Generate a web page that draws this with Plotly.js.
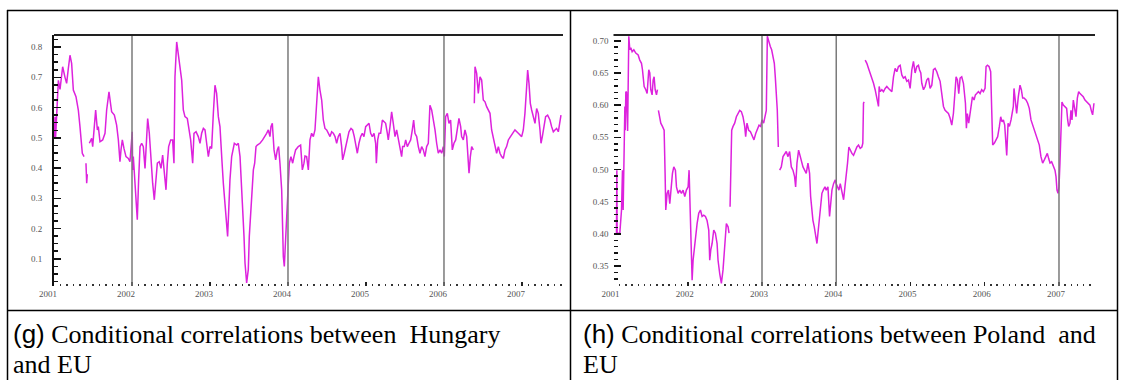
<!DOCTYPE html>
<html><head><meta charset="utf-8">
<script src="https://cdn.plot.ly/plotly-3.0.1.min.js"></script>
<style>html,body{margin:0;padding:0;background:#fff;overflow:hidden;} #chart{width:1125px;height:380px;}</style>
</head><body><div id="chart"></div>
<script>
// ---------- data: Hungary / EU conditional correlation ----------
const hungaryT = [
2001.005,2001.013,2001.020,2001.034,2001.056,2001.077,2001.094,2001.111,2001.141,2001.162,2001.184,2001.205,2001.226,2001.248,2001.282,2001.312,2001.333,2001.346,2001.363,2001.385,2001.395,2001.410,2001.419,2001.427,2001.440,2001.453,2001.483,2001.496,2001.517,2001.534,2001.556,2001.568,2001.590,2001.624,2001.654,2001.675,2001.705,2001.718,2001.739,2001.774,2001.803,2001.825,2001.846,2001.859,2001.876,2001.897,2001.923,2001.953,2001.974,
2002.003,2002.009,2002.017,2002.038,2002.068,2002.085,2002.103,2002.124,2002.145,2002.167,2002.188,2002.201,2002.222,2002.244,2002.265,2002.286,2002.308,2002.325,2002.350,2002.372,2002.393,2002.415,2002.436,2002.453,2002.470,2002.496,2002.521,2002.538,2002.551,2002.573,2002.594,2002.615,2002.637,2002.658,2002.679,2002.709,2002.735,2002.752,2002.778,2002.795,2002.821,2002.850,2002.872,2002.893,2002.915,2002.936,2002.957,2002.979,
2003.000,2003.021,2003.043,2003.064,2003.085,2003.107,2003.128,2003.141,2003.154,2003.171,2003.192,2003.214,2003.226,2003.244,2003.256,2003.278,2003.291,2003.312,2003.342,2003.363,2003.385,2003.397,2003.415,2003.436,2003.449,2003.470,2003.491,2003.504,2003.521,2003.538,2003.556,2003.573,2003.590,2003.607,2003.641,2003.675,2003.705,2003.726,2003.748,2003.769,2003.782,2003.799,2003.821,2003.842,2003.863,2003.880,2003.897,2003.919,2003.932,2003.940,2003.953,2003.970,2003.983,2003.991,
2004.004,2004.017,2004.038,2004.060,2004.077,2004.098,2004.132,2004.162,2004.184,2004.205,2004.218,2004.239,2004.261,2004.282,2004.303,2004.325,2004.346,2004.368,2004.389,2004.410,2004.432,2004.453,2004.474,2004.496,2004.517,2004.539,2004.560,2004.581,2004.603,2004.624,2004.645,2004.667,2004.688,2004.701,2004.722,2004.739,2004.761,2004.782,2004.808,2004.829,2004.850,2004.868,2004.889,2004.910,2004.932,2004.953,2004.974,2004.996,
2005.017,2005.039,2005.060,2005.081,2005.103,2005.124,2005.133,2005.150,2005.167,2005.188,2005.210,2005.231,2005.252,2005.274,2005.286,2005.308,2005.329,2005.350,2005.372,2005.393,2005.415,2005.436,2005.457,2005.470,2005.491,2005.509,2005.530,2005.551,2005.573,2005.594,2005.611,2005.628,2005.650,2005.671,2005.692,2005.714,2005.735,2005.756,2005.778,2005.799,2005.820,2005.842,2005.863,2005.885,2005.906,2005.927,2005.949,2005.970,2005.991,
2006.004,2006.021,2006.043,2006.064,2006.085,2006.107,2006.128,2006.150,2006.171,2006.192,2006.214,2006.226,2006.248,2006.269,2006.291,2006.312,2006.321,2006.338,2006.355,2006.376,2006.383,2006.389,2006.398,2006.419,2006.440,2006.462,2006.483,2006.504,2006.526,2006.547,2006.568,2006.590,2006.611,2006.632,2006.654,2006.675,2006.697,2006.718,2006.739,2006.761,2006.782,2006.803,2006.825,2006.868,2006.910,2006.953,2006.996,
2007.017,2007.038,2007.060,2007.073,2007.090,2007.107,2007.124,2007.145,2007.167,2007.188,2007.209,2007.231,2007.244,2007.261,2007.286,2007.303,2007.329,2007.359,2007.380,2007.402,2007.423,2007.444,2007.466,2007.487,2007.500
];
const hungaryV = [
0.50,0.57,0.50,0.58,0.69,0.66,0.70,0.735,0.70,0.68,0.73,0.773,0.746,0.658,0.636,0.592,0.537,0.493,0.449,0.438,null,0.416,0.35,0.38,null,0.482,0.498,0.471,0.537,0.592,0.526,0.537,0.487,0.493,0.515,0.592,0.652,0.625,0.586,0.575,0.542,0.493,0.421,0.460,0.493,0.465,0.438,0.432,0.421,
0.52,0.394,0.438,0.361,0.229,0.361,0.471,0.482,0.471,0.399,0.537,0.564,0.515,0.416,0.350,0.295,0.361,0.416,0.421,0.399,0.443,0.383,0.328,0.416,0.471,0.493,0.493,0.416,0.702,0.817,0.779,0.746,0.691,0.592,0.570,0.564,0.526,0.493,0.416,0.515,0.520,0.504,0.482,0.515,0.531,0.526,0.482,0.438,
0.471,0.465,0.581,0.674,0.647,0.570,0.537,0.493,0.421,0.350,0.284,0.196,0.174,0.284,0.361,0.438,0.460,0.482,0.476,0.482,0.438,0.361,0.284,0.174,0.086,0.020,0.064,0.174,0.240,0.328,0.394,0.416,0.471,0.476,0.482,0.493,0.504,0.515,0.526,0.504,0.537,0.548,0.460,0.427,0.460,0.471,0.416,0.328,0.196,0.108,0.075,0.174,0.196,0.295,
0.372,0.416,0.438,0.416,0.438,0.460,0.471,0.476,0.394,0.416,0.44,0.438,0.394,0.493,0.515,0.504,0.526,0.614,0.702,0.658,0.625,0.559,0.531,0.526,0.515,0.504,0.520,0.515,0.504,0.482,0.504,0.515,0.471,0.427,0.449,0.471,0.504,0.520,0.531,0.526,0.504,0.482,0.449,0.482,0.504,0.515,0.504,0.537,
0.542,0.548,0.515,0.504,0.515,0.482,0.416,0.493,0.515,0.515,0.559,0.553,0.548,0.515,0.493,0.537,0.586,0.548,0.504,0.526,0.493,0.471,0.438,0.471,0.471,0.493,0.471,0.482,0.493,0.526,0.559,0.515,0.504,0.471,0.449,0.471,0.460,0.438,0.471,0.482,0.608,0.592,0.564,0.526,0.482,0.449,0.460,0.449,0.471,
0.438,0.570,0.581,0.548,0.559,0.460,0.482,0.493,0.537,0.564,0.537,0.504,0.493,0.526,0.504,0.438,0.383,0.438,0.471,0.460,null,0.614,0.735,0.713,0.647,0.702,0.691,0.625,0.619,0.603,0.592,0.581,0.526,0.504,0.471,0.449,0.471,0.449,0.438,0.432,0.460,0.471,0.493,0.509,0.526,0.515,0.504,
0.526,0.581,0.669,0.724,0.680,0.614,0.592,0.570,0.548,0.597,0.581,0.526,0.482,0.504,0.537,0.570,0.575,0.559,0.537,0.520,0.526,0.531,0.520,0.548,0.575
];

// ---------- data: Poland / EU conditional correlation ----------
const polandT = [
2001.040,2001.045,2001.049,2001.063,2001.085,2001.108,2001.121,2001.130,2001.139,2001.153,2001.158,2001.166,2001.175,2001.190,2001.197,2001.206,2001.220,2001.233,2001.251,2001.274,2001.300,2001.332,2001.354,2001.377,2001.390,2001.399,2001.413,2001.435,2001.453,2001.475,2001.489,2001.502,2001.520,2001.534,2001.547,2001.561,2001.579,2001.592,2001.598,2001.605,2001.623,2001.637,2001.659,2001.682,2001.695,2001.704,2001.722,2001.740,2001.758,2001.780,2001.794,2001.812,2001.834,2001.848,2001.870,2001.892,2001.915,2001.937,2001.960,2001.982,
2002.005,2002.018,2002.032,2002.045,2002.059,2002.072,2002.090,2002.108,2002.126,2002.148,2002.171,2002.193,2002.215,2002.238,2002.260,2002.283,2002.296,2002.310,2002.328,2002.350,2002.372,2002.395,2002.408,2002.431,2002.453,2002.475,2002.498,2002.520,2002.543,2002.556,2002.563,2002.570,2002.583,2002.592,2002.610,2002.632,2002.655,2002.677,2002.700,2002.722,2002.744,2002.767,2002.780,2002.798,2002.821,2002.843,2002.870,2002.892,2002.915,2002.937,2002.960,2002.982,
2003.000,2003.022,2003.040,2003.058,2003.072,2003.094,2003.112,2003.130,2003.148,2003.166,2003.179,2003.193,2003.206,2003.220,2003.230,2003.238,2003.260,2003.283,2003.305,2003.327,2003.350,2003.372,2003.395,2003.417,2003.439,2003.453,2003.471,2003.493,2003.516,2003.534,2003.552,2003.574,2003.596,2003.619,2003.641,2003.655,2003.668,2003.686,2003.704,2003.722,2003.740,2003.758,2003.776,2003.789,2003.807,2003.825,2003.848,2003.865,2003.888,2003.910,2003.924,2003.942,2003.964,2003.987,
2004.000,2004.018,2004.036,2004.054,2004.076,2004.099,2004.117,2004.135,2004.152,2004.170,2004.188,2004.211,2004.233,2004.255,2004.278,2004.300,2004.323,2004.345,2004.358,2004.367,2004.376,2004.383,2004.390,2004.412,2004.435,2004.457,2004.479,2004.502,2004.524,2004.547,2004.569,2004.578,2004.592,2004.614,2004.636,2004.659,2004.681,2004.704,2004.726,2004.749,2004.771,2004.793,2004.816,2004.838,2004.861,2004.883,2004.905,2004.928,2004.950,2004.973,2004.995,
2005.018,2005.040,2005.062,2005.085,2005.107,2005.121,2005.139,2005.152,2005.175,2005.197,2005.219,2005.242,2005.264,2005.287,2005.309,2005.331,2005.354,2005.376,2005.399,2005.421,2005.444,2005.466,2005.488,2005.511,2005.533,2005.556,2005.578,2005.596,2005.614,2005.632,2005.650,2005.668,2005.690,2005.713,2005.726,2005.740,2005.753,2005.766,2005.784,2005.802,2005.816,2005.834,2005.856,2005.874,2005.892,2005.915,2005.937,2005.959,2005.982,
2006.004,2006.018,2006.036,2006.058,2006.080,2006.094,2006.107,2006.130,2006.152,2006.174,2006.197,2006.215,2006.233,2006.251,2006.269,2006.282,2006.296,2006.314,2006.332,2006.354,2006.372,2006.385,2006.394,2006.412,2006.430,2006.452,2006.475,2006.493,2006.511,2006.529,2006.556,2006.578,2006.600,2006.623,2006.645,2006.668,2006.690,2006.713,2006.735,2006.757,2006.780,2006.802,2006.825,2006.843,2006.861,2006.879,2006.901,2006.924,2006.946,2006.960,2006.973,2006.987,
2007.000,2007.013,2007.027,2007.040,2007.058,2007.081,2007.103,2007.117,2007.130,2007.148,2007.161,2007.175,2007.193,2007.211,2007.229,2007.247,2007.265,2007.283,2007.305,2007.327,2007.350,2007.372,2007.395,2007.417,2007.439,2007.453,2007.471
];
const polandV = [
0.40,0.499,0.40,0.401,0.401,0.437,0.499,0.437,0.546,0.598,0.561,0.621,0.62,0.56,0.639,0.707,0.686,0.689,0.683,0.686,0.681,0.678,0.670,0.665,0.655,0.639,0.629,0.624,0.618,0.655,0.650,0.624,0.616,0.639,0.644,0.624,0.616,0.624,null,0.592,0.582,0.572,0.567,0.561,0.494,0.437,0.463,0.468,0.447,0.478,0.494,0.504,0.499,0.473,0.463,0.468,0.463,0.468,0.458,0.468,
0.473,0.499,0.432,0.364,0.328,0.359,0.380,0.401,0.416,0.432,0.437,0.427,0.429,0.427,0.421,0.406,0.359,0.375,0.385,0.406,0.401,0.385,0.359,0.338,0.323,0.344,0.385,0.416,0.411,0.401,null,0.442,0.525,0.561,0.567,0.572,0.582,0.587,0.592,0.590,0.582,0.567,0.551,0.572,0.561,0.559,0.551,0.546,0.556,0.564,0.569,0.567,
0.577,0.572,0.582,0.592,0.707,0.696,0.691,0.686,0.675,0.665,0.644,0.618,0.592,0.535,null,0.499,0.504,0.520,0.525,0.528,0.520,0.528,0.504,0.499,0.489,0.473,0.510,0.530,0.520,0.510,0.504,0.499,0.494,0.510,0.494,0.458,0.437,0.421,0.411,0.396,0.385,0.406,0.427,0.453,0.463,0.468,0.473,0.468,0.473,0.427,0.447,0.468,0.478,0.484,
0.478,0.473,0.468,0.478,0.468,0.453,0.473,0.489,0.510,0.535,0.530,0.525,0.522,0.530,0.535,0.538,0.533,0.535,0.541,0.603,0.605,null,0.670,0.665,0.657,0.650,0.642,0.634,0.624,0.613,0.598,0.629,0.621,0.624,0.621,0.626,0.629,0.626,0.624,0.621,0.644,0.657,0.652,0.660,0.662,0.647,0.642,0.644,0.637,0.639,0.626,
0.655,0.668,0.650,0.660,0.662,0.655,0.650,0.634,0.624,0.629,0.639,0.642,0.626,0.631,0.655,0.657,0.652,0.644,0.637,0.618,0.598,0.592,0.590,0.587,0.580,0.569,0.587,0.613,0.644,0.639,0.618,0.642,0.644,0.634,0.613,0.603,0.564,0.587,0.572,0.587,0.605,0.613,0.608,0.616,0.618,0.621,0.618,0.624,0.621,
0.626,0.660,0.662,0.660,0.652,0.592,0.538,0.541,0.546,0.551,0.567,0.582,0.574,0.577,0.569,0.551,0.522,0.572,0.567,0.577,0.587,0.598,0.626,0.608,0.587,0.613,0.631,0.624,0.611,0.611,0.608,0.603,0.595,0.577,0.569,0.564,0.556,0.546,0.538,0.520,0.510,0.515,0.520,0.525,0.517,0.510,0.512,0.504,0.499,0.489,0.468,0.463,
0.473,0.510,0.572,0.605,0.600,0.598,0.595,0.577,0.567,0.572,0.592,0.577,0.608,0.595,0.582,0.611,0.621,0.618,0.616,0.613,0.608,0.605,0.603,0.600,0.590,0.585,0.603
];

// ---------- axes / labels ----------
const yearTicks  = [2001, 2002, 2003, 2004, 2005, 2006, 2007];
const yearLabels = ['2001', '2002', '2003', '2004', '2005', '2006', '2007'];
const hungaryTicks  = [0.1, 0.2, 0.3, 0.4, 0.5, 0.6, 0.7, 0.8];
const hungaryLabels = ['0.1', '0.2', '0.3', '0.4', '0.5', '0.6', '0.7', '0.8'];
const polandTicks  = [0.35, 0.40, 0.45, 0.50, 0.55, 0.60, 0.65, 0.70];
const polandLabels = ['0.35', '0.40', '0.45', '0.50', '0.55', '0.60', '0.65', '0.70'];
const eventLinesG = [2002, 2004, 2006];
const eventLinesH = [2003, 2004, 2007];
const captionG = ['(g)', 'Conditional correlations between\u00a0 Hungary', 'and EU'];
const captionH = ['(h)', 'Conditional correlations between Poland\u00a0 and', 'EU'];

const W = 1125, H = 380;
const px = x => x / W, py = y => 1 - y / H;

const lineColor = '#dd22dd';
const traces = [
  {x: hungaryT, y: hungaryV, xaxis: 'x', yaxis: 'y', type: 'scatter', mode: 'lines',
   line: {color: lineColor, width: 1.5}, connectgaps: false, hoverinfo: 'skip'},
  {x: polandT, y: polandV, xaxis: 'x2', yaxis: 'y2', type: 'scatter', mode: 'lines',
   line: {color: lineColor, width: 1.5}, connectgaps: false, hoverinfo: 'skip'}
];

const tickFont = {family: 'Liberation Serif', size: 9, color: '#555'};
function xAxis(domain, range, shift) {
  return {domain: domain, range: range, tickmode: 'array', tickvals: yearTicks, ticktext: yearLabels,
    ticks: 'inside', ticklen: 4, tickwidth: 1.5, tickcolor: '#222', showline: false, showgrid: false,
    zeroline: false, tickfont: tickFont, ticklabelshift: shift, ticklabelstandoff: 1,
    minor: {tickmode: 'linear', tick0: 2001, dtick: 1 / 12, ticks: 'inside', ticklen: 2.5, tickwidth: 1.5,
            tickcolor: '#333', showgrid: false}, fixedrange: true};
}
function yAxis(range, vals, labels, minorStep, standoff, showLine) {
  return {domain: [py(286), py(35)], range: range, tickmode: 'array', tickvals: vals, ticktext: labels,
    ticks: 'inside', ticklen: 7, tickwidth: 1.5, tickcolor: '#111', showline: showLine, linecolor: '#111',
    linewidth: 2, showgrid: false, zeroline: false, tickfont: tickFont, ticklabelstandoff: standoff,
    minor: {tickmode: 'linear', tick0: 0, dtick: minorStep, ticks: 'inside', ticklen: 4, tickwidth: 1.5,
            tickcolor: '#111', showgrid: false}, fixedrange: true};
}

const shapes = [];
eventLinesG.forEach(v => shapes.push({type: 'line', xref: 'x', yref: 'y domain', x0: v, x1: v, y0: 0, y1: 1,
  line: {color: '#7a7a7a', width: 1.5}, layer: 'above'}));
eventLinesH.forEach(v => shapes.push({type: 'line', xref: 'x2', yref: 'y2 domain', x0: v, x1: v, y0: 0, y1: 1,
  line: {color: '#7a7a7a', width: 1.5}, layer: 'above'}));
// top frame lines of both plots
shapes.push({type: 'line', xref: 'x domain', yref: 'y domain', x0: 0, x1: 1, y0: 1, y1: 1, line: {color: '#222', width: 2}});
shapes.push({type: 'line', xref: 'x2 domain', yref: 'y2 domain', x0: 0, x1: 1, y0: 1, y1: 1, line: {color: '#222', width: 2}});
// table borders
const border = {color: '#000', width: 1.5};
shapes.push({type: 'line', xref: 'paper', yref: 'paper', x0: px(7), x1: px(1118), y0: py(10.5), y1: py(10.5), line: border});
shapes.push({type: 'line', xref: 'paper', yref: 'paper', x0: px(7), x1: px(1118), y0: py(310.5), y1: py(310.5), line: border});
[7.5, 570.5, 1117.5].forEach(x => shapes.push({type: 'line', xref: 'paper', yref: 'paper',
  x0: px(x), x1: px(x), y0: py(10), y1: py(381), line: border}));

function caption(parts, x0) {
  const f = {family: 'Liberation Serif', size: 26, color: '#000'};
  return [
    {xref: 'paper', yref: 'paper', x: px(x0), y: py(334), xanchor: 'left', yanchor: 'middle', showarrow: false,
     text: '<span style="font-family:Liberation Sans">' + parts[0] + '</span> ' + parts[1], font: f},
    {xref: 'paper', yref: 'paper', x: px(x0), y: py(364), xanchor: 'left', yanchor: 'middle', showarrow: false,
     text: parts[2], font: f}
  ];
}

const layout = {
  width: W, height: H, margin: {l: 0, r: 0, t: 0, b: 0}, paper_bgcolor: '#fff', plot_bgcolor: '#fff',
  showlegend: false,
  xaxis: Object.assign(xAxis([px(54), px(563)], [2001, 2007.526], -6), {anchor: 'y'}),
  yaxis: Object.assign(yAxis([0.01, 0.84], hungaryTicks, hungaryLabels, 0.025, 8, true), {anchor: 'x'}),
  xaxis2: Object.assign(xAxis([px(613.5), px(1095)], [2001, 2007.485], -3), {anchor: 'y2'}),
  yaxis2: Object.assign(yAxis([0.319, 0.709], polandTicks, polandLabels, 0.01, 4, false), {anchor: 'x2'}),
  shapes: shapes,
  annotations: caption(captionG, 11).concat(caption(captionH, 581))
};

Plotly.newPlot('chart', traces, layout, {displayModeBar: false, staticPlot: true});
</script>
</body></html>
